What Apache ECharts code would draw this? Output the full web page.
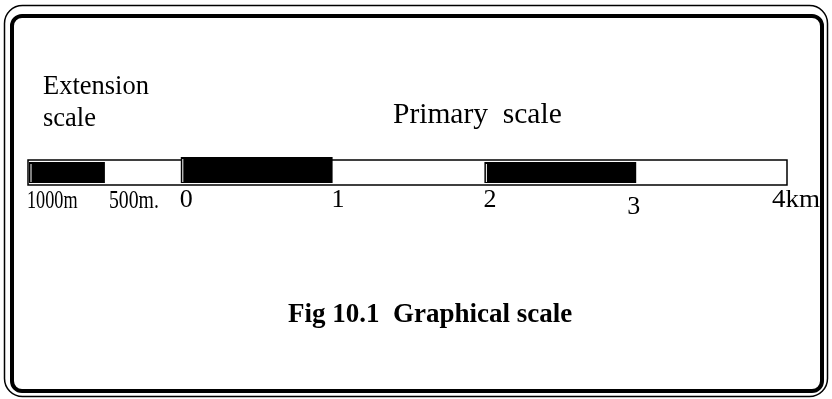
<!DOCTYPE html>
<html>
<head>
<meta charset="utf-8">
<script src="https://cdn.jsdelivr.net/npm/echarts@6/dist/echarts.min.js"></script>
<style>
  html, body { margin: 0; padding: 0; background: #fff; }
  #chart { width: 832px; height: 399px; }
</style>
</head>
<body>
<div id="chart"></div>
<script>
// scale in km, extension scale runs below zero
const scaleRange = [-1, 4]
const filledSegments = [[-1, -0.5], [0, 1], [2, 3]]
const tickValues = [-1, -0.5, 0, 1, 2, 3, 4]
const tickLabels = ["1000m", "500m.", "0", "1", "2", "3", "4km"]

// hand tweaks per label (dx, dy, horizontal squeeze)
const labelTweaks = [
  { dx: -1, dy: 1, sx: 0.7 },
  { dx: 5, dy: 1, sx: 0.76 },
  { dx: 0, dy: 0, sx: 1 },
  { dx: 0, dy: 0, sx: 1 },
  { dx: 0, dy: 0, sx: 1 },
  { dx: -8, dy: 7, sx: 1 },
  { dx: -15, dy: 0, sx: 1.04 }
]

const serif = "'Liberation Serif', 'DejaVu Serif', serif"
const chart = echarts.init(document.getElementById("chart"))

const options = {
  animation: false,
  grid: { left: 28, right: 45, top: 160, height: 25 },
  xAxis: {
    type: "value",
    min: scaleRange[0],
    max: scaleRange[1],
    show: false
  },
  yAxis: { type: "value", min: 0, max: 1, show: false },
  graphic: [
    {
      type: "rect",
      shape: { x: 4.5, y: 5.5, width: 823, height: 391, r: 18 },
      style: { fill: null, stroke: "#000", lineWidth: 1.5 }
    },
    {
      type: "rect",
      shape: { x: 12, y: 16, width: 810, height: 375, r: 10 },
      style: { fill: null, stroke: "#000", lineWidth: 4 }
    },
    {
      type: "text",
      left: 43,
      top: 71,
      style: { text: "Extension\nscale", font: "26.5px " + serif, fill: "#000", lineHeight: 32 }
    },
    {
      type: "text",
      left: 393,
      top: 100,
      style: { text: "Primary  scale", font: "29.5px " + serif, fill: "#000" }
    },
    {
      type: "text",
      left: 288,
      top: 302,
      style: { text: "Fig 10.1  Graphical scale", font: "bold 27px " + serif, fill: "#000" }
    }
  ],
  series: [
    {
      // outline of the whole scale
      type: "custom",
      data: [scaleRange],
      renderItem: (params, api) => {
        const p0 = api.coord([api.value(0), 1])
        const p1 = api.coord([api.value(1), 0])
        return {
          type: "rect",
          shape: { x: p0[0], y: p0[1], width: p1[0] - p0[0], height: p1[1] - p0[1] },
          style: { fill: "#fff", stroke: "#000", lineWidth: 1.5 }
        }
      }
    },
    {
      // black blocks
      type: "custom",
      data: filledSegments,
      renderItem: (params, api) => {
        const top = params.dataIndex === 1 ? 1.12 : 0.92
        const p0 = api.coord([api.value(0), top])
        const p1 = api.coord([api.value(1), 0.08])
        const w = p1[0] - p0[0]
        const h = p1[1] - p0[1]
        return {
          type: "group",
          children: [
            { type: "rect", shape: { x: p0[0] + 1, y: p0[1], width: w, height: h }, style: { fill: "#000" } },
            {
              type: "line",
              shape: { x1: p0[0] + 3, y1: p0[1] + 2, x2: p0[0] + 3, y2: p1[1] - 1 },
              style: { stroke: "#fff", lineWidth: 1 }
            }
          ]
        }
      }
    },
    {
      // tick labels under the bar
      type: "custom",
      data: tickValues.map((v, i) => [v, tickLabels[i]]),
      renderItem: (params, api) => {
        const t = labelTweaks[params.dataIndex]
        const p = api.coord([api.value(0), 0])
        return {
          type: "text",
          x: p[0] + t.dx,
          y: p[1] + 28 + t.dy,
          scaleX: t.sx,
          style: {
            text: tickLabels[params.dataIndex],
            font: "26px " + serif,
            fill: "#000",
            textAlign: "left",
            textVerticalAlign: "bottom"
          }
        }
      }
    }
  ]
}

chart.setOption(options)
</script>
</body>
</html>
